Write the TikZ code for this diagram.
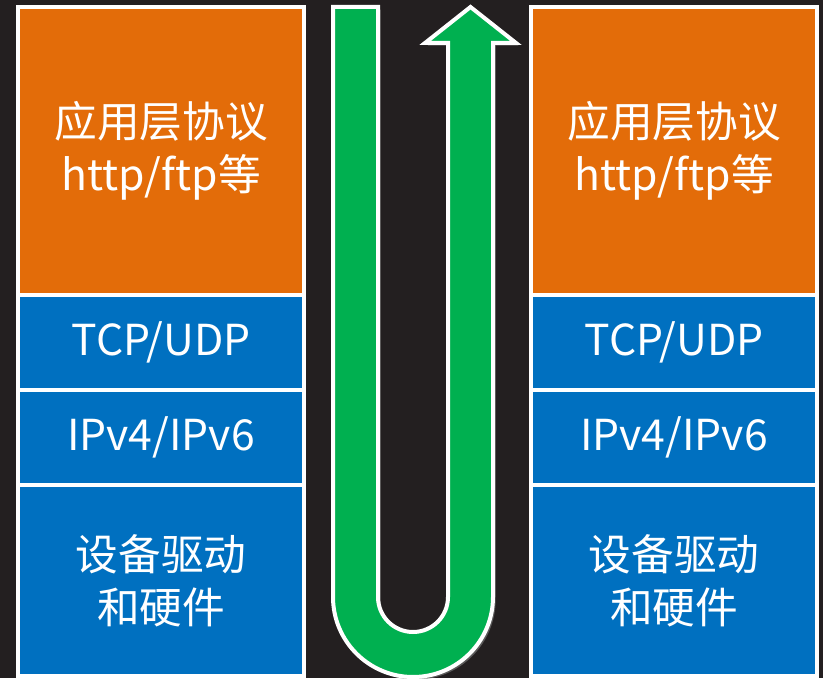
\documentclass[tikz,border=0pt]{standalone}
\usepackage{fontspec}
\setmainfont{Noto Sans CJK SC}
\usepackage{tikz}
\usepackage{xcolor}
\usetikzlibrary{positioning}
\usetikzlibrary{shadows}
\definecolor{bgdark}{HTML}{231F20}
\definecolor{apporange}{HTML}{E36C09}
\definecolor{netblue}{HTML}{0070C0}
\definecolor{arrowgreen}{HTML}{00B050}
\tikzstyle{layer} = [draw=white, line width=3pt, outer sep=0pt, text=white, minimum width=214.5pt, align=center, font=\fontsize{32}{40}\selectfont]

\begin{document}
\begin{tikzpicture}[x=0.75pt, y=0.75pt]
	\fill[bgdark] (0,0) rectangle (823,678);
	\useasboundingbox (0,0) rectangle (823,678);

	% sender stack
	\node[layer, fill=apporange, minimum height=216pt, anchor=north] at (161,671) (app1) {应用层协议\\http/ftp等};
	\node[layer, fill=netblue, minimum height=71.25pt, below=0pt of app1] (tcp1) {TCP/UDP};
	\node[layer, fill=netblue, minimum height=71.6pt, below=0pt of tcp1] (ip1) {IPv4/IPv6};
	\node[layer, fill=netblue, minimum height=143.25pt, below=0pt of ip1] (dev1) {设备驱动\\和硬件};

	% receiver stack
	\node[layer, fill=apporange, minimum height=216pt, anchor=north] at (674,671) (app2) {应用层协议\\http/ftp等};
	\node[layer, fill=netblue, minimum height=71.25pt, below=0pt of app2] (tcp2) {TCP/UDP};
	\node[layer, fill=netblue, minimum height=71.6pt, below=0pt of tcp2] (ip2) {IPv4/IPv6};
	\node[layer, fill=netblue, minimum height=143.25pt, below=0pt of ip2] (dev2) {设备驱动\\和硬件};

	% down and up again
	\draw[white, line width=3pt, fill=arrowgreen, drop shadow={opacity=0.6, shadow xshift=2pt, shadow yshift=-2pt}]
		(333,671) -- (378,671) -- (378,81) arc[start angle=180, end angle=360, radius=35]
		-- (448,635) -- (425,635) -- (470.5,671) -- (516,635) -- (493,635) -- (493,81)
		arc[start angle=0, end angle=-180, radius=80] -- cycle;
\end{tikzpicture}
\end{document}
